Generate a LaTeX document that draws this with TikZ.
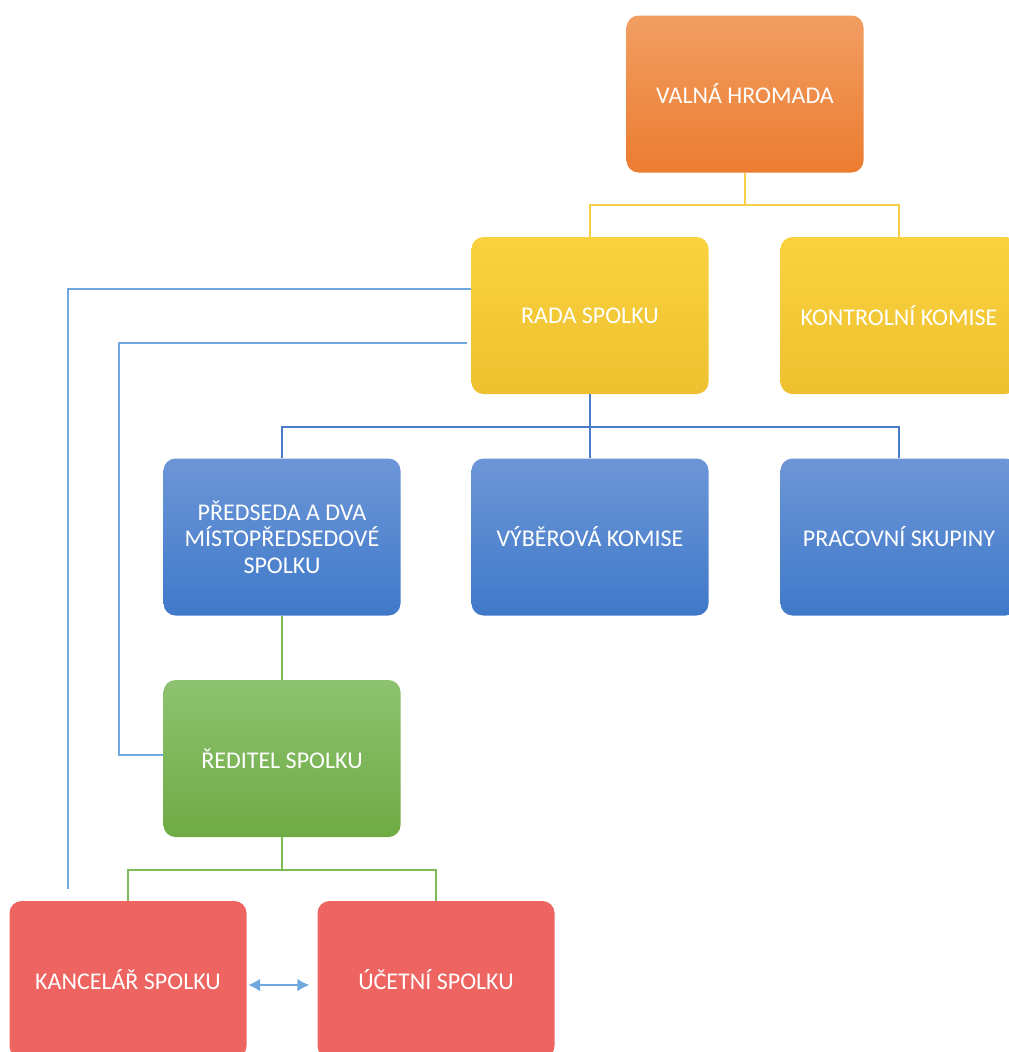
\documentclass[tikz,border=0pt]{standalone}
\usepackage{fontspec}
\setmainfont{Carlito}
\usepackage{tikz}
\usetikzlibrary{positioning, arrows, arrows.meta}

\definecolor{oranzNahore}{RGB}{241,158,98}
\definecolor{oranzDole}{RGB}{236,124,48}
\definecolor{zlutaNahore}{RGB}{250,210,62}
\definecolor{zlutaDole}{RGB}{237,192,48}
\definecolor{modraNahore}{RGB}{108,150,215}
\definecolor{modraDole}{RGB}{64,121,201}
\definecolor{zelenaNahore}{RGB}{141,194,112}
\definecolor{zelenaDole}{RGB}{111,171,68}
\definecolor{cervena}{RGB}{238,100,97}
\definecolor{zlutaCara}{RGB}{248,206,72}
\definecolor{modraCara}{RGB}{72,123,200}
\definecolor{zelenaCara}{RGB}{126,186,86}
\definecolor{svetlaCara}{RGB}{111,168,220}

\tikzset{
	box/.style = {rectangle, rounded corners = 12pt, minimum width = 237pt, minimum height = 157pt, inner sep = 0pt, text = white, align = center, font = \fontsize{24}{26.5}\selectfont},
	oranzBox/.style = {box, top color = oranzNahore, bottom color = oranzDole},
	zlutyBox/.style = {box, top color = zlutaNahore, bottom color = zlutaDole},
	modryBox/.style = {box, top color = modraNahore, bottom color = modraDole},
	zelenyBox/.style = {box, top color = zelenaNahore, bottom color = zelenaDole},
	cervenyBox/.style = {box, fill = cervena},
	zlutaLinka/.style = {draw = zlutaCara, line width = 2pt},
	modraLinka/.style = {draw = modraCara, line width = 2pt},
	zelenaLinka/.style = {draw = zelenaCara, line width = 2pt},
	svetlaLinka/.style = {draw = svetlaCara, line width = 2pt}
}

\begin{document}
\begin{tikzpicture}[x = 1pt, y = -1pt]
		\useasboundingbox (0, 0) rectangle (1009, 1052);
		\clip (0, 0) rectangle (1009, 1052);
		\node[oranzBox] (valna) at (745, 94) {VALNÁ HROMADA};
		\node[zlutyBox] (rada) at (590, 315.5) {RADA SPOLKU};
		\node[zlutyBox] (kontrola) at (899, 315.5) {KONTROLNÍ KOMISE};
		\node[modryBox] (predseda) at (282, 537) {PŘEDSEDA A DVA\\MÍSTOPŘEDSEDOVÉ\\SPOLKU};
		\node[modryBox] (vyber) at (590, 537) {VÝBĚROVÁ KOMISE};
		\node[modryBox] (skupiny) at (899, 537) {PRACOVNÍ SKUPINY};
		\node[zelenyBox] (reditel) at (282, 758.5) {ŘEDITEL SPOLKU};
		\node[cervenyBox] (kancelar) at (128, 979.5) {KANCELÁŘ SPOLKU};
		\node[cervenyBox] (ucetni) at (436, 979.5) {ÚČETNÍ SPOLKU};
		\coordinate (konecKancelar) at (68, 889);
		\draw[zlutaLinka] (valna.south) -- ++(0, 32) -| (rada.north);
		\draw[zlutaLinka] (valna.south) -- ++(0, 32) -| (kontrola.north);
		\draw[modraLinka] (rada.south) -- ++(0, 33) -| (predseda.north);
		\draw[modraLinka] (rada.south) -- (vyber.north);
		\draw[modraLinka] (rada.south) -- ++(0, 33) -| (skupiny.north);
		\draw[zelenaLinka] (predseda.south) -- (reditel.north);
		\draw[zelenaLinka] (reditel.south) -- ++(0, 33) -| (kancelar.north);
		\draw[zelenaLinka] (reditel.south) -- ++(0, 33) -| (ucetni.north);
		\draw[svetlaLinka] ([yshift = 27pt]rada.west) -| (konecKancelar);
		\draw[svetlaLinka] ([xshift = -4pt, yshift = -27pt]rada.west) -| ([xshift = -44pt, yshift = 4pt]reditel.west) -- ([yshift = 4pt]reditel.west);
		\draw[svetlaLinka, {Latex[length = 12pt, width = 13pt]}-{Latex[length = 12pt, width = 13pt]}, shorten < = 1.5pt, shorten > = 8pt] ([yshift = -5.5pt]kancelar.east) -- ([yshift = -5.5pt]ucetni.west);
\end{tikzpicture}
\end{document}
